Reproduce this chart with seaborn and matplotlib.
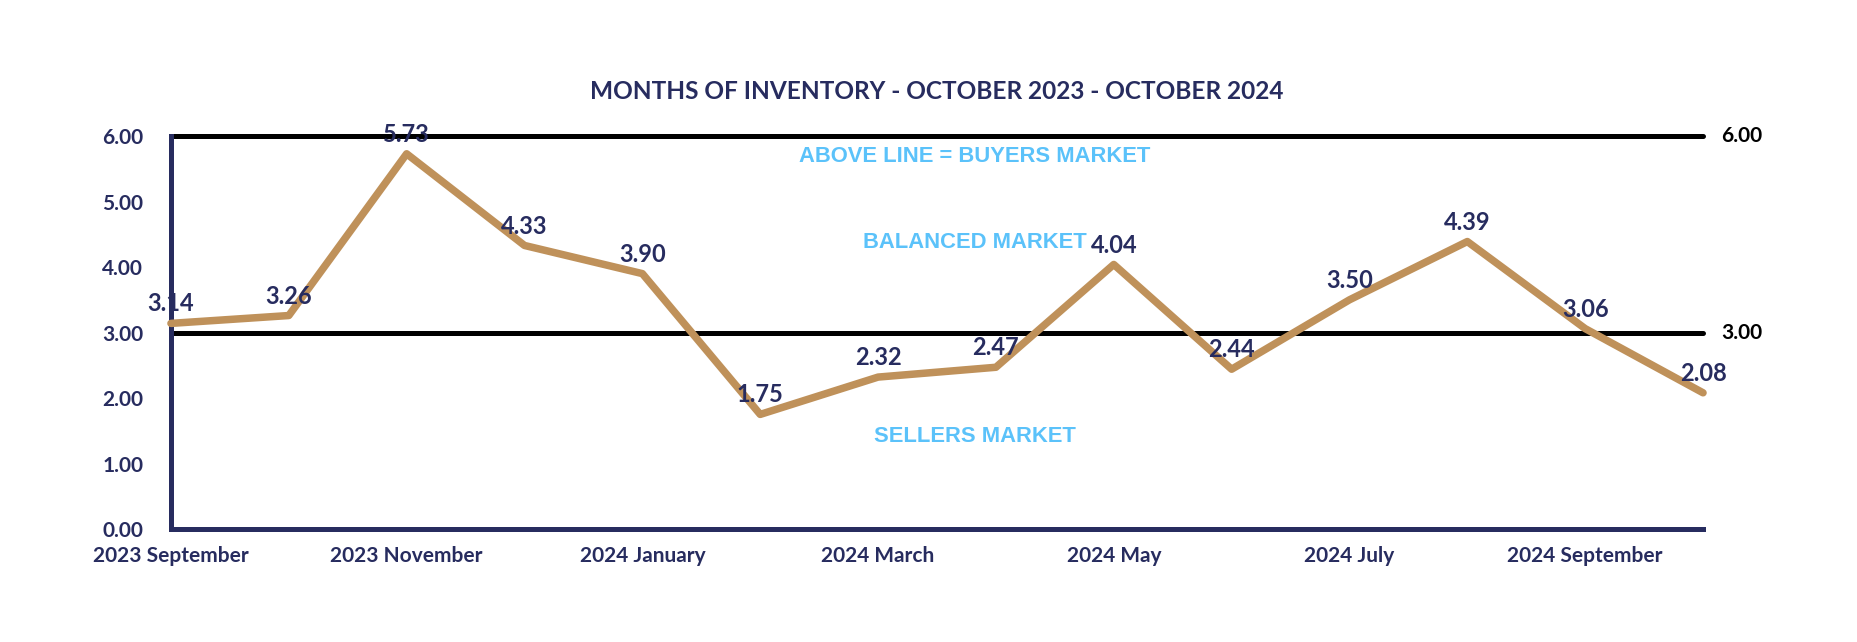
import numpy as np
import matplotlib
matplotlib.use("Agg")
import matplotlib.pyplot as plt
import seaborn as sns

# data
months = ['2023 September', '2023 October', '2023 November', '2023 December',
          '2024 January', '2024 February', '2024 March', '2024 April',
          '2024 May', '2024 June', '2024 July', '2024 August',
          '2024 September', '2024 October']
inventory = [3.14, 3.26, 5.73, 4.33, 3.90, 1.75, 2.32, 2.47,
             4.04, 2.44, 3.50, 4.39, 3.06, 2.08]
thresholds = [6.0, 3.0]
zone_labels = ['ABOVE LINE = BUYERS MARKET', 'BALANCED MARKET', 'SELLERS MARKET']
zone_y = [5.69, 4.37, 1.41]

navy = '#272C5F'
tan = '#BF915A'
cyan = '#5BC2FA'

sns.set_style('white')
plt.rcParams['font.family'] = ['Lato', 'DejaVu Sans']

fig = plt.figure(figsize=(18.58, 6.42), dpi=100)
ax = fig.add_axes([0.092, 0.176, 0.8246, 0.612])

x = np.arange(len(months))

# threshold lines
for t in thresholds:
    ax.axhline(t, color='black', lw=3.6, clip_on=False, zorder=2)
    ax.text(1.012, t, f'{t:.2f}', transform=ax.get_yaxis_transform(),
            ha='left', va='center', fontsize=15, fontweight='bold', color='black')

sns.lineplot(x=x, y=inventory, ax=ax, color=tan, lw=5.4, zorder=3, clip_on=False)

for xi, v in zip(x, inventory):
    ax.annotate(f'{v:.2f}', (xi, v), xytext=(0, 14), textcoords='offset points',
                ha='center', va='center', fontsize=17, fontweight='bold',
                color=navy, zorder=4)

for lab, yy in zip(zone_labels, zone_y):
    ax.text(6.82, yy, lab, ha='center', va='center', fontsize=15.8,
            fontweight='bold', color=cyan, family='Liberation Sans', zorder=4)

ax.set_xlim(0, 13)
ax.set_ylim(0, 6)
ax.set_yticks(np.arange(0, 7, 1))
ax.set_yticklabels([f'{v:.2f}' for v in np.arange(0, 7, 1)])
ax.set_xticks(x[::2])
ax.set_xticklabels(months[::2])
ax.tick_params(axis='y', length=0, pad=20, labelsize=15, labelcolor=navy)
ax.tick_params(axis='x', length=0, pad=12, labelsize=15, labelcolor=navy)
for lab in ax.get_xticklabels() + ax.get_yticklabels():
    lab.set_fontweight('bold')

for s in ['top', 'right']:
    ax.spines[s].set_visible(False)
for s in ['left', 'bottom']:
    ax.spines[s].set_color(navy)
    ax.spines[s].set_linewidth(3.6)
    ax.spines[s].set_capstyle('projecting')

ax.set_title('MONTHS OF INVENTORY - OCTOBER 2023 - OCTOBER 2024', fontsize=17.6,
             fontweight='bold', color=navy, pad=27)

fig.savefig('out.png', dpi=100)
